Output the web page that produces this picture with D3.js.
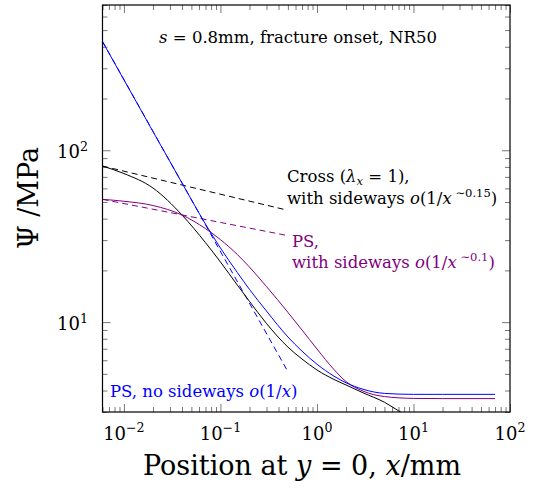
<!DOCTYPE html>
<html>
<head>
<meta charset="utf-8">
<script src="https://cdn.jsdelivr.net/npm/d3@7"></script>
<style>
body { margin: 0; background: #fff; }
svg text { font-family: "DejaVu Serif", "Liberation Serif", serif; }
</style>
</head>
<body>
<svg id="chart" width="533" height="491"></svg>
<script>
// axis ranges and tick labels
var xDomain = [0.006, 100];
var yDomain = [3, 700];
var xTickPowers = [-2, -1, 0, 1, 2];
var yTickPowers = [1, 2];

// shared sample positions along x (mm)
var sampleX = [0.006, 0.01, 0.02, 0.04, 0.07, 0.1, 0.15, 0.2, 0.3, 0.5, 0.7, 1, 1.5, 2, 3, 5, 10, 20, 70];

// PS, no sideways (blue)
var blueY = [428, 257, 128.5, 64.5, 37.2, 27.0, 19.4, 15.5, 11.6, 8.2, 6.78, 5.69, 4.85, 4.44, 4.07, 3.85, 3.80, 3.80, 3.80];
var blueFitX = [0.006, 0.505];
var blueFitY = [430, 5.1];

// Cross, lambda_x = 1 (black)
var crossX = [0.006, 0.01, 0.02, 0.04, 0.07, 0.1, 0.15, 0.2, 0.3, 0.5, 0.7, 1, 1.5, 2, 3, 5, 7.5, 10];
var crossY = [80.9, 73.2, 60.3, 42.0, 29.0, 22.4, 16.4, 13.2, 9.82, 7.16, 6.10, 5.27, 4.64, 4.31, 3.88, 3.42, 2.98, 2.75];
var crossFitX = [0.006, 0.486];
var crossFitY = [80.9, 44.9];

// PS with sideways (purple)
var psY = [51.8, 50.5, 47.7, 42.0, 35.0, 30.2, 24.7, 20.9, 16.1, 11.4, 9.0, 6.98, 5.30, 4.51, 3.97, 3.69, 3.60, 3.59, 3.59];
var psFitX = [0.006, 0.467];
var psFitY = [51.8, 32.1];

var svg = d3.select("#chart");
var pLeft = 102.5, pRight = 510, pTop = 5, pBottom = 412;

var x = d3.scaleLog().domain(xDomain).range([pLeft, pRight]);
var y = d3.scaleLog().domain(yDomain).range([pBottom, pTop]);

var isMajor = function(v) { return Math.abs(Math.log10(v) - Math.round(Math.log10(v))) < 1e-9; };
var xMinor = x.ticks().filter(v => !isMajor(v));
var xMajor = x.ticks().filter(isMajor);
var yMinor = y.ticks().filter(v => !isMajor(v));
var yMajor = y.ticks().filter(isMajor);

// ticks on all four sides, pointing inwards
function tickAxis(axisFn, scale, values, size, transform) {
    var g = svg.append("g")
        .attr("transform", transform)
        .call(axisFn(scale).tickValues(values).tickSize(size).tickSizeOuter(0).tickFormat(""));
    g.select(".domain").remove();
    g.selectAll(".tick line").attr("stroke", "#555").attr("stroke-width", 0.8);
}
tickAxis(d3.axisBottom, x, xMinor, -5, `translate(0,${pBottom})`);
tickAxis(d3.axisBottom, x, xMajor, -8, `translate(0,${pBottom})`);
tickAxis(d3.axisTop, x, xMinor, -5, `translate(0,${pTop})`);
tickAxis(d3.axisTop, x, xMajor, -8, `translate(0,${pTop})`);
tickAxis(d3.axisLeft, y, yMinor, -5, `translate(${pLeft},0)`);
tickAxis(d3.axisLeft, y, yMajor, -8, `translate(${pLeft},0)`);
tickAxis(d3.axisRight, y, yMinor, -5, `translate(${pRight},0)`);
tickAxis(d3.axisRight, y, yMajor, -8, `translate(${pRight},0)`);

// curves
svg.append("clipPath").attr("id", "plotclip")
    .append("rect").attr("x", pLeft).attr("y", pTop).attr("width", pRight - pLeft).attr("height", pBottom - pTop);

var plot = svg.append("g").attr("clip-path", "url(#plotclip)");
var line = d3.line().x(d => x(d[0])).y(d => y(d[1])).curve(d3.curveMonotoneX);
var straight = d3.line().x(d => x(d[0])).y(d => y(d[1]));

function drawSeries(xs, ys, color, dashed, gen) {
    plot.append("path")
        .datum(d3.zip(xs, ys))
        .attr("d", gen)
        .attr("fill", "none")
        .attr("stroke", color)
        .attr("stroke-width", 1)
        .attr("stroke-dasharray", dashed ? "6,4" : null);
}
var purple = "#800080";
drawSeries(crossFitX, crossFitY, "#000", true, straight);
drawSeries(psFitX, psFitY, purple, true, straight);
drawSeries(blueFitX, blueFitY, "#0000ff", true, straight);
drawSeries(crossX, crossY, "#000", false, line);
drawSeries(sampleX, psY, purple, false, line);
drawSeries(sampleX, blueY, "#0000ff", false, line);

// frame
svg.append("rect")
    .attr("x", pLeft).attr("y", pTop)
    .attr("width", pRight - pLeft).attr("height", pBottom - pTop)
    .attr("fill", "none").attr("stroke", "#000").attr("stroke-width", 1.2);

// rich text helper: parts are [text, style] where style has i (italic), sup, sub
function richText(parent, px, py, parts, size, color, anchor) {
    var t = parent.append("text")
        .attr("x", px).attr("y", py)
        .attr("font-size", size)
        .attr("fill", color || "#000")
        .attr("text-anchor", anchor || "start");
    var shift = 0;
    parts.forEach(function(p) {
        var s = p[1] || {};
        var span = t.append("tspan").text(p[0]);
        var want = s.sup ? -size * 0.42 : s.sub ? size * 0.2 : 0;
        if (want !== shift) span.attr("dy", want - shift);
        shift = want;
        if (s.i) span.attr("font-style", "italic");
        if (s.sup || s.sub) span.attr("font-size", size * 0.7);
    });
    return t;
}

// tick labels
xTickPowers.forEach(function(p) {
    richText(svg, x(Math.pow(10, p)), 440, [["10"], [p < 0 ? "\u2212" + (-p) : String(p), { sup: true }]], 18, "#000", "middle");
});
yTickPowers.forEach(function(p) {
    richText(svg, 88, y(Math.pow(10, p)) + 8, [["10"], [String(p), { sup: true }]], 18, "#000", "end");
});

// axis titles
richText(svg, 302, 475, [["Position at "], ["y", { i: true }], [" = 0, "], ["x", { i: true }], ["/mm"]], 27, "#000", "middle");
richText(svg, 0, 0, [["\u03a8 /MPa"]], 27, "#000", "middle")
    .attr("transform", "translate(38,198) rotate(-90)");

// title inside
richText(svg, 298, 43, [["s", { i: true }], [" = 0.8mm, fracture onset, NR50"]], 16.5, "#000", "middle");

// annotations
richText(svg, 287, 182, [["Cross ("], ["\u03bb", { i: true }], ["x", { i: true, sub: true }], [" = 1),"]], 16.5);
richText(svg, 287, 204, [["with sideways "], ["o", { i: true }], ["(1/"], ["x", { i: true }], [" \u223c0.15", { sup: true }], [")"]], 16.5);
richText(svg, 292, 247, [["PS,"]], 16.5, purple);
richText(svg, 292, 268, [["with sideways "], ["o", { i: true }], ["(1/"], ["x", { i: true }], [" \u223c0.1", { sup: true }], [")"]], 16.5, purple);
richText(svg, 110, 397, [["PS, no sideways "], ["o", { i: true }], ["(1/"], ["x", { i: true }], [")"]], 16.5, "#0000ff");
</script>
</body>
</html>
